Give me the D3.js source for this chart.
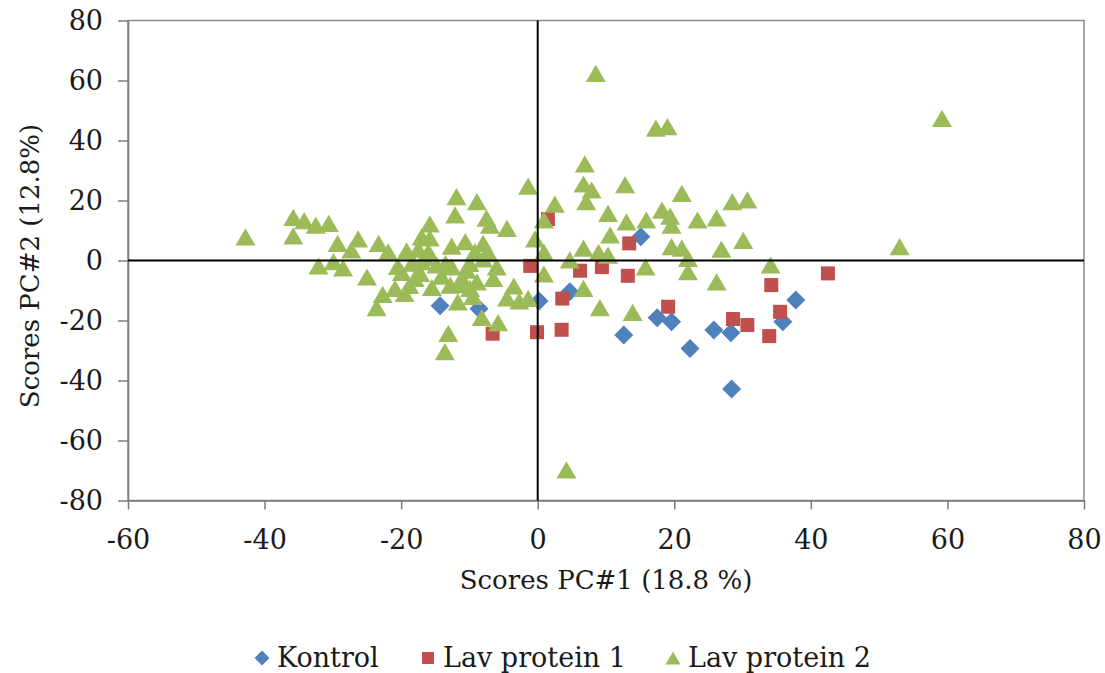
<!DOCTYPE html>
<html><head><meta charset="utf-8">
<script src="https://cdn.jsdelivr.net/npm/d3@7"></script>
<style>
body{margin:0;background:#fff}
text{font-family:"DejaVu Serif","Liberation Serif",serif;fill:#1a1a1a}
</style>
</head><body>
<svg id="chart" width="1105" height="673"></svg>
<script>
// ---- data ----
const xTicks = [-60,-40,-20,0,20,40,60,80];
const yTicks = [-80,-60,-40,-20,0,20,40,60,80];
const seriesNames = ["Kontrol","Lav protein 1","Lav protein 2"];
const xTitle = "Scores PC#1 (18.8 %)";
const yTitle = "Scores PC#2 (12.8%)";

const kontrolX = [-14.3,-8.6,0.2,4.7,15.1,12.6,17.5,19.6,22.3,25.8,28.3,28.4,35.9,37.8];
const kontrolY = [-15.1,-16.1,-13.5,-10.4,7.9,-24.8,-19.1,-20.4,-29.3,-23.2,-24.1,-42.8,-20.4,-13.2];

const lav1X = [1.5,13.4,-1.1,6.2,9.4,13.2,3.6,19.1,3.5,-0.1,-6.6,42.5,34.2,35.5,28.6,30.7,33.9];
const lav1Y = [13.8,5.7,-1.8,-3.4,-2.2,-5.1,-12.7,-15.4,-23.1,-23.9,-24.4,-4.3,-8.2,-17.1,-19.5,-21.5,-25.2];

const lav2X = [-42.8,-35.8,-35.8,-34.2,-32.5,-30.6,-32.1,-29.9,-29.3,-28.5,-27.3,-26.3,-25.0,-23.6,-23.3,-22.7,-21.9,-20.9,-19.9,-19.2,-18.8,-18.4,-17.5,-17.2,-17.0,-17.0,-15.8,-15.8,-16.0,-14.8,-14.1,-12.8,-13.6,-13.1,-12.6,-12.6,-12.1,-11.9,-11.7,-11.1,-10.6,-10.4,-9.9,-9.2,-8.9,-8.9,-8.2,-8.0,-7.5,-7.2,-7.0,-6.0,-5.8,-4.5,-3.5,-2.7,-1.4,-1.4,-0.4,0.9,0.9,0.9,2.5,4.2,4.7,6.7,6.7,6.9,6.7,7.9,7.1,8.5,8.9,9.1,10.3,10.3,10.6,12.8,13.0,13.9,15.8,15.9,17.3,19.0,18.2,19.4,19.6,19.6,21.1,21.1,22.0,22.0,23.4,26.2,26.2,26.9,28.5,30.7,30.1,34.1,53.0,59.2,
  -20.5,-18.0,-15.5,-13.5,-10.0,-9.5,-6.5,-4.5,-19.5,-16.5,-11.5,-8.0];
const lav2Y = [7.9,14.4,8.2,13.3,11.8,12.4,-1.8,-0.4,5.7,-2.5,3.5,7.2,-5.5,-15.7,5.7,-11.3,2.9,-9.3,-4.0,3.2,-8.3,-0.9,3.8,-4.3,-0.4,7.9,12.2,7.5,2.9,-1.5,-5.2,-8.2,-30.4,-24.3,4.8,-2.1,15.2,21.3,-13.8,-5.9,6.3,-3.2,-9.3,2.9,-7.1,19.6,-19.0,5.7,14.1,2.4,11.8,-2.1,-20.7,10.7,-8.5,-13.5,-12.6,24.8,7.2,2.8,-4.5,13.5,18.8,-69.8,0.2,-9.3,4.1,32.2,25.5,23.5,19.6,62.4,2.7,-15.7,15.7,1.8,8.5,25.3,12.9,-17.3,-2.1,13.5,44.1,44.6,16.8,14.8,11.8,4.6,4.1,22.4,0.7,-3.7,13.5,14.2,-7.1,3.8,19.6,20.2,6.7,-1.5,4.6,47.4,
  -2.0,-6.0,-9.0,-1.0,-1.0,-12.0,-6.0,-12.5,-11.0,1.0,-8.0,0.5];

// ---- layout ----
const colors = ["#4F81BD","#C0504D","#9BBB59"];
const svg = d3.select("#chart");
const L = 128, R = 1084, T = 20.5, B = 500.5;
const x = d3.scaleLinear().domain([-60,80]).range([L,R]);
const y = d3.scaleLinear().domain([-80,80]).range([B,T]);

// symbol types
const diamondSym = {draw(ctx,size){const r=Math.sqrt(size)/2;ctx.moveTo(0,-r);ctx.lineTo(r,0);ctx.lineTo(0,r);ctx.lineTo(-r,0);ctx.closePath();}};
const squareSym = {draw(ctx,size){const s=Math.sqrt(size)/2;ctx.rect(-s,-s,2*s,2*s);}};
const triSym = {draw(ctx,size){const w=Math.sqrt(size);const h=w*0.86;ctx.moveTo(0,-h/2);ctx.lineTo(w/2,h/2);ctx.lineTo(-w/2,h/2);ctx.closePath();}};
const symTypes = [diamondSym, squareSym, triSym];
const symSizes = [19*19, 14*14, 20*20];

// plot box
svg.append("rect").attr("x",L).attr("y",T).attr("width",R-L).attr("height",B-T)
  .attr("fill","none").attr("stroke","#8a8a8a").attr("stroke-width",1.5);

// axes
const fmt = d => String(d);
const yAxis = d3.axisLeft(y).tickValues(yTicks).tickSize(10).tickSizeOuter(0).tickPadding(15).tickFormat(fmt);
const xAxis = d3.axisBottom(x).tickValues(xTicks).tickSize(9).tickSizeOuter(0).tickPadding(20).tickFormat(fmt);
const gy = svg.append("g").attr("transform",`translate(${L},0)`).call(yAxis);
const gx = svg.append("g").attr("transform",`translate(0,${B})`).call(xAxis);
[gx,gy].forEach(g=>{
  g.select(".domain").attr("stroke","#7a7a7a").attr("stroke-width",1.5);
  g.selectAll(".tick line").attr("stroke","#7a7a7a").attr("stroke-width",1.5);
  g.selectAll(".tick text").style("font-family","'DejaVu Serif',serif").style("font-size","27px").attr("fill","#1a1a1a");
});

// series
const series = [
  {xs:kontrolX, ys:kontrolY},
  {xs:lav1X, ys:lav1Y},
  {xs:lav2X, ys:lav2Y}
];
series.forEach((s,i)=>{
  const pts = s.xs.map((v,k)=>[v,s.ys[k]]);
  svg.append("g").selectAll("path").data(pts).join("path")
    .attr("d", d3.symbol().type(symTypes[i]).size(symSizes[i]))
    .attr("transform",d=>`translate(${x(d[0])},${y(d[1])})`)
    .attr("fill",colors[i]);
});

// zero lines
svg.append("line").attr("x1",x(0)).attr("x2",x(0)).attr("y1",T).attr("y2",B)
  .attr("stroke","#000").attr("stroke-width",2);
svg.append("line").attr("x1",L).attr("x2",R).attr("y1",y(0)).attr("y2",y(0))
  .attr("stroke","#000").attr("stroke-width",2);

// titles
svg.append("text").attr("x",(L+R)/2).attr("y",589).attr("text-anchor","middle")
  .style("font-size","26px").text(xTitle);
svg.append("text").attr("transform","translate(30,266) rotate(-90)").attr("text-anchor","middle")
  .attr("dy","0.35em").style("font-size","26px").text(yTitle);

// legend
const legX = [262, 428, 673];
const lg = svg.append("g");
seriesNames.forEach((n,i)=>{
  lg.append("path").attr("d", d3.symbol().type(symTypes[i]).size(i===1?12*12:15*15))
    .attr("transform",`translate(${legX[i]},658)`).attr("fill",colors[i]);
  lg.append("text").attr("x",legX[i]+15).attr("y",667).style("font-size","27px").text(n);
});
</script>
</body></html>
